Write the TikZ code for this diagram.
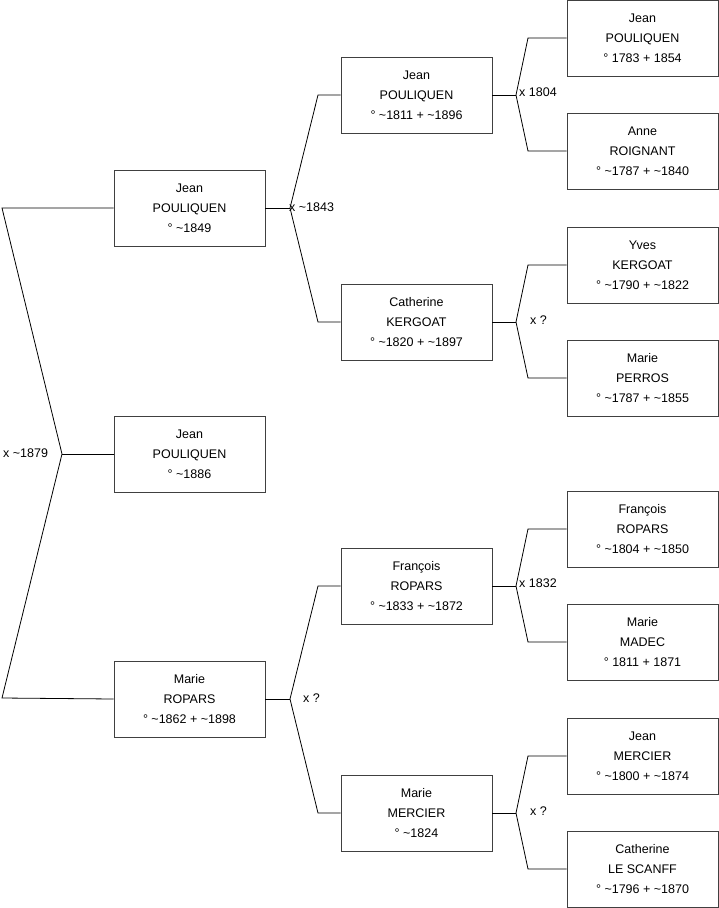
\documentclass[tikz,border=0pt]{standalone}
\usepackage{fontspec}
\setmainfont{Liberation Sans}
\begin{document}
\begin{tikzpicture}[x=1pt,y=-1pt,
  person/.style={draw=black!75,line width=0.8pt,minimum width=151pt,minimum height=76pt,inner sep=0pt,align=center,font=\fontsize{12.5}{20}\selectfont,fill=white},
  link/.style={draw=black,line width=0.8pt},
  mlabel/.style={anchor=west,inner sep=0pt,font=\fontsize{12.5}{15}\selectfont}]
\useasboundingbox (0,0) rectangle (719,908);
% level 1
\node[person] (A1) at (189.5,208) {Jean\\POULIQUEN\\° \textasciitilde1849};
\node[person] (A2) at (189.5,454) {Jean\\POULIQUEN\\° \textasciitilde1886};
\node[person] (A3) at (189.5,699) {Marie\\ROPARS\\° \textasciitilde1862 + \textasciitilde1898};
% level 2
\node[person] (B1) at (416.5,95) {Jean\\POULIQUEN\\° \textasciitilde1811 + \textasciitilde1896};
\node[person] (B2) at (416.5,322) {Catherine\\KERGOAT\\° \textasciitilde1820 + \textasciitilde1897};
\node[person] (B3) at (416.5,586) {François\\ROPARS\\° \textasciitilde1833 + \textasciitilde1872};
\node[person] (B4) at (416.5,813) {Marie\\MERCIER\\° \textasciitilde1824};
% level 3
\node[person] (C1) at (642.5,38) {Jean\\POULIQUEN\\° 1783 + 1854};
\node[person] (C2) at (642.5,151) {Anne\\ROIGNANT\\° \textasciitilde1787 + \textasciitilde1840};
\node[person] (C3) at (642.5,265) {Yves\\KERGOAT\\° \textasciitilde1790 + \textasciitilde1822};
\node[person] (C4) at (642.5,378) {Marie\\PERROS\\° \textasciitilde1787 + \textasciitilde1855};
\node[person] (C5) at (642.5,529) {François\\ROPARS\\° \textasciitilde1804 + \textasciitilde1850};
\node[person] (C6) at (642.5,642) {Marie\\MADEC\\° 1811 + 1871};
\node[person] (C7) at (642.5,756) {Jean\\MERCIER\\° \textasciitilde1800 + \textasciitilde1874};
\node[person] (C8) at (642.5,869) {Catherine\\LE SCANFF\\° \textasciitilde1796 + \textasciitilde1870};
% junction coordinates
\coordinate (v0) at (62,454);
\coordinate (a1) at (2,208);
\coordinate (a3) at (2,698);
\coordinate (v1) at (290,208);
\coordinate (b1) at (318,95);
\coordinate (b2) at (318,322);
\coordinate (v3) at (290,699);
\coordinate (b3) at (318,586);
\coordinate (b4) at (318,813);
\coordinate (w1) at (516,95);
\coordinate (c1) at (528,38);
\coordinate (c2) at (528,151);
\coordinate (w2) at (516,322);
\coordinate (c3) at (528,265);
\coordinate (c4) at (528,378);
\coordinate (w3) at (516,586);
\coordinate (c5) at (528,529);
\coordinate (c6) at (528,642);
\coordinate (w4) at (516,813);
\coordinate (c7) at (528,756);
\coordinate (c8) at (528,869);
% connectors
\draw[link] (A1.west) -- (a1) -- (v0) -- (a3) -- (A3.west);
\draw[link] (v0) -- (A2.west);
\draw[link] (A1.east) -- (v1);
\draw[link] (B1.west) -- (b1) -- (v1) -- (b2) -- (B2.west);
\draw[link] (A3.east) -- (v3);
\draw[link] (B3.west) -- (b3) -- (v3) -- (b4) -- (B4.west);
\draw[link] (B1.east) -- (w1);
\draw[link] (C1.west) -- (c1) -- (w1) -- (c2) -- (C2.west);
\draw[link] (B2.east) -- (w2);
\draw[link] (C3.west) -- (c3) -- (w2) -- (c4) -- (C4.west);
\draw[link] (B3.east) -- (w3);
\draw[link] (C5.west) -- (c5) -- (w3) -- (c6) -- (C6.west);
\draw[link] (B4.east) -- (w4);
\draw[link] (C7.west) -- (c7) -- (w4) -- (c8) -- (C8.west);
% marriage labels
\node[mlabel] (m0) at (3,453) {x \textasciitilde1879};
\node[mlabel] (m1) at (289,207) {x \textasciitilde1843};
\node[mlabel] (m3) at (303,698) {x ?};
\node[mlabel] (m11) at (519,92) {x 1804};
\node[mlabel] (m12) at (530,320) {x ?};
\node[mlabel] (m13) at (519,583) {x 1832};
\node[mlabel] (m14) at (530,811) {x ?};
\end{tikzpicture}
\end{document}
